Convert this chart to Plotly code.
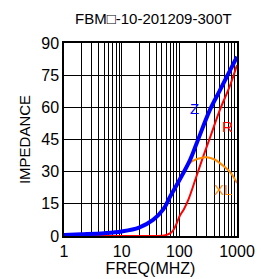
import plotly.graph_objects as go

title_text = "FBM\u25a1-10-201209-300T"

z_freq = [1, 2, 5, 10, 20, 35, 53, 69, 100, 153, 199, 339, 500, 750, 1000]
z_vals = [0.5, 0.8, 1.3, 2.1, 3.9, 7.5, 12.5, 18.3, 26.0, 35.4, 43.1, 58.8, 67.7, 77.0, 83.6]

r_freq = [1, 10, 40, 55, 69, 79, 90, 100, 120, 143, 199, 259, 350, 505, 753, 1000]
r_vals = [0, 0, 0, 0.3, 1.2, 2.8, 5.9, 9.0, 12.5, 16.8, 28.0, 37.0, 46.8, 58.8, 70.0, 79.7]

xl_freq = [80, 100, 117, 134, 170, 256, 300, 400, 505, 753, 1000]
xl_vals = [21.0, 25.5, 30.0, 32.5, 35.0, 36.6, 36.7, 35.8, 34.0, 29.9, 24.7]

y_ticks = [0, 15, 30, 45, 60, 75, 90]
x_ticks = [1, 10, 100, 1000]

font_family = "Liberation Sans, Arial, sans-serif"

fig = go.Figure()
fig.add_trace(go.Scatter(x=r_freq, y=r_vals, mode="lines", line=dict(color="#ff0000", width=2, shape="spline"), showlegend=False))
fig.add_trace(go.Scatter(x=xl_freq, y=xl_vals, mode="lines", line=dict(color="#ff8c00", width=2, shape="spline"), showlegend=False))
fig.add_trace(go.Scatter(x=z_freq, y=z_vals, mode="lines", line=dict(color="#0000ff", width=4, shape="spline"), showlegend=False))

fig.add_annotation(x=2.27, y=59.5, xref="x", yref="y", text="Z", showarrow=False, font=dict(color="#0000ff", size=15, family=font_family))
fig.add_annotation(x=2.83, y=51, xref="x", yref="y", text="R", showarrow=False, font=dict(color="#ff0000", size=15, family=font_family))
fig.add_annotation(x=2.76, y=21.5, xref="x", yref="y", text="XL", showarrow=False, font=dict(color="#ff8c00", size=15, family=font_family))

fig.update_layout(
    width=255, height=271,
    margin=dict(l=56, r=26, t=35, b=43, autoexpand=False),
    paper_bgcolor="white", plot_bgcolor="white",
    title=dict(text=title_text, x=0.57, xanchor="center", yref="container", y=0.962, yanchor="middle",
               font=dict(size=15, color="black", family=font_family)),
    font=dict(family=font_family, color="black"),
)
fig.update_xaxes(
    type="log", range=[0, 3], tickvals=x_ticks, ticktext=[str(v) for v in x_ticks],
    showgrid=True, gridcolor="black", gridwidth=1,
    minor=dict(dtick="D1", showgrid=True, gridcolor="black", gridwidth=1, ticks=""),
    showline=True, linecolor="black", linewidth=1.5, mirror=True,
    ticks="", tickfont=dict(size=16), zeroline=False, automargin=False,
    title=dict(text="FREQ(MHZ)", font=dict(size=16), standoff=1),
)
fig.update_yaxes(
    range=[0, 90], tickvals=y_ticks,
    showgrid=True, gridcolor="black", gridwidth=1,
    showline=True, linecolor="black", linewidth=1.5, mirror=True,
    ticks="", tickfont=dict(size=16), zeroline=False, automargin=False,
    title=dict(text="IMPEDANCE", font=dict(size=15), standoff=7),
)

fig.write_html("out.html")
